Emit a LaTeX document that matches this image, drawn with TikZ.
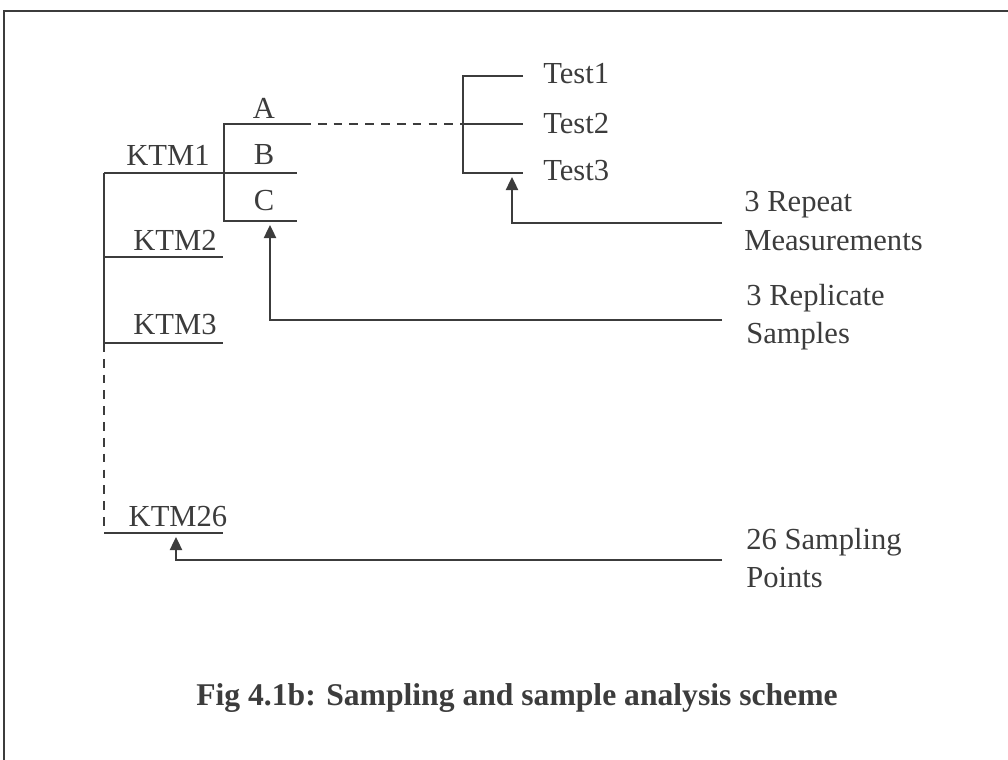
\documentclass[tikz,border=0pt]{standalone}
\usepackage{fontspec}
\setmainfont{Liberation Serif}
\usetikzlibrary{arrows.meta}
\definecolor{ink}{HTML}{3C3C3C}
\begin{document}
\begin{tikzpicture}[x=0.02cm,y=-0.02cm,
  ln/.style={draw=ink,line width=1.1pt},
  dsh/.style={ln,dash pattern=on 5pt off 4pt},
  arr/.style={ln,-{Triangle[length=7.5pt,width=7pt]}},
  lbl/.style={text=ink,inner sep=0pt,font=\fontsize{17.4}{22}\selectfont},
  note/.style={lbl,align=left,anchor=west},
  captionstyle/.style={text=ink,inner sep=0pt,font=\fontsize{18}{22}\selectfont\bfseries}]
\useasboundingbox (0,0) rectangle (1008,760);
\clip (0,0) rectangle (1008,760);
\draw[ln] (1030,11) -- (4,11) -- (4,790);
% coordinates
\coordinate (s1) at (104,173); \coordinate (s1e) at (297,173);
\coordinate (abcT) at (224,124); \coordinate (aE) at (302,124);
\coordinate (abcB) at (224,221); \coordinate (cE) at (297,221);
\coordinate (s2) at (104,257); \coordinate (s2e) at (223,257);
\coordinate (s3) at (104,343); \coordinate (s3e) at (223,343);
\coordinate (dEnd) at (104,526);
\coordinate (s26) at (104,533); \coordinate (s26e) at (223,533);
\coordinate (t1) at (463,76); \coordinate (t1e) at (523,76);
\coordinate (t2) at (463,124); \coordinate (t2e) at (523,124);
\coordinate (t3) at (463,173); \coordinate (t3e) at (523,173);
\coordinate (rA) at (722,223); \coordinate (rAt) at (512,177);
\coordinate (rB) at (722,320); \coordinate (rBt) at (270,225);
\coordinate (rC) at (722,560); \coordinate (rCt) at (176,537);
% labels
\node[lbl] (ktm1) at (168,155) {KTM1};
\node[lbl] (ktm2) at (175,240) {KTM2};
\node[lbl] (ktm3) at (175,325) {KTM3};
\node[lbl] (ktm26) at (178,517) {KTM26};
\node[lbl] (la) at (264,108) {A};
\node[lbl] (lb) at (264,155) {B};
\node[lbl] (lc) at (264,201) {C};
\node[lbl,anchor=west] (test1) at (543,74) {Test1};
\node[lbl,anchor=west] (test2) at (543,124) {Test2};
\node[lbl,anchor=west] (test3) at (543,171) {Test3};
\node[note] (n1) at (744,221) {3 Repeat\\Measurements};
\node[note] (n2) at (746,317) {3 Replicate\\Samples};
\node[note] (n3) at (746,558) {26 Sampling\\Points};
\node[captionstyle] (caption) at (517,698) {Fig 4.1b: Sampling and sample analysis scheme};
% tree
\draw[ln] (s1) -- (s1e);
\draw[ln] (aE) -- (abcT) -- (abcB) -- (cE);
\draw[ln] (s1) -- (s3);
\draw[ln] (s2) -- (s2e);
\draw[ln] (s3) -- (s3e);
\draw[dsh] (s3) -- (dEnd);
\draw[ln] (s26) -- (s26e);
\draw[dsh] (aE) -- (t2);
\draw[ln] (t1e) -- (t1) -- (t3) -- (t3e);
\draw[ln] (t2) -- (t2e);
% pointers
\draw[arr] (rA) -| (rAt);
\draw[arr] (rB) -| (rBt);
\draw[arr] (rC) -| (rCt);
\end{tikzpicture}
\end{document}
